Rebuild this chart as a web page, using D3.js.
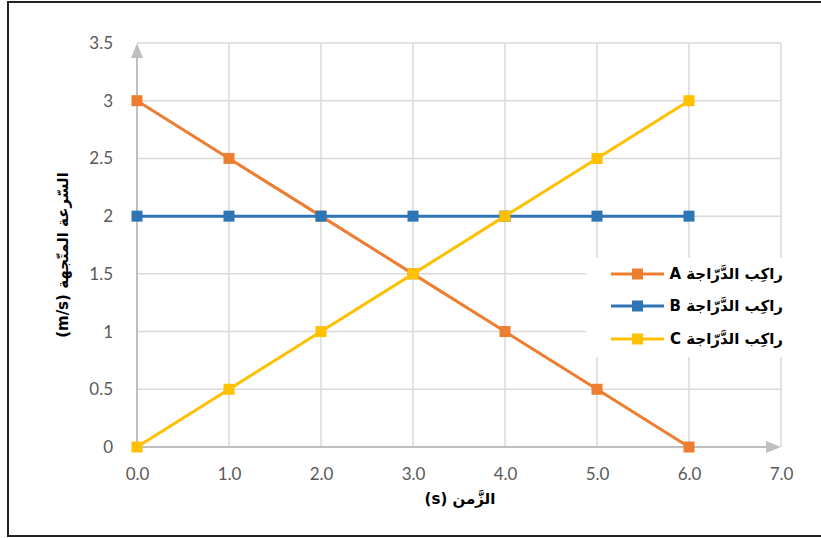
<!DOCTYPE html>
<html>
<head>
<meta charset="utf-8">
<script src="https://cdn.jsdelivr.net/npm/d3@7"></script>
<style>
  body { margin: 0; background: #fff; }
  svg { display: block; }
  .tick-label { font-family: Lato, "Open Sans", sans-serif; font-size: 17px; fill: #595959; }
  .ar { font-family: "DejaVu Sans", "Noto Sans", sans-serif; font-weight: bold; fill: #000; }
</style>
</head>
<body>
<svg id="chart" width="821" height="538"></svg>
<script>
const times = [0, 1, 2, 3, 4, 5, 6];
const riderA = [3, 2.5, 2, 1.5, 1, 0.5, 0];
const riderB = [2, 2, 2, 2, 2, 2, 2];
const riderC = [0, 0.5, 1, 1.5, 2, 2.5, 3];
const seriesNames = ['راكِب الدَّرّاجة A', 'راكِب الدَّرّاجة B', 'راكِب الدَّرّاجة C'];
const seriesColors = ['#ED7D31', '#2E75B6', '#FFC000'];
const xTicks = [0, 1, 2, 3, 4, 5, 6, 7];
const yTicks = [0, 0.5, 1, 1.5, 2, 2.5, 3, 3.5];
const xTitle = 'الزَّمن (s)';
const yTitle = 'السّرعة المتّجهة (m/s)';

const series = [riderA, riderB, riderC].map((vals, i) => ({
  name: seriesNames[i],
  color: seriesColors[i],
  points: vals.map((v, j) => ({ t: times[j], v }))
}));

const svg = d3.select('#chart');

// outer frame
svg.append('path')
  .attr('d', 'M8,537 L8,2 L821,2')
  .attr('fill', 'none')
  .attr('stroke', '#222')
  .attr('stroke-width', 2);
svg.append('line')
  .attr('x1', 8).attr('x2', 821).attr('y1', 536).attr('y2', 536)
  .attr('stroke', '#222').attr('stroke-width', 2);

const x = d3.scaleLinear().domain([0, 7]).range([137, 781]);
const y = d3.scaleLinear().domain([0, 3.5]).range([447, 43]);

// grid
const grid = svg.append('g');
grid.selectAll('.vg')
  .data(xTicks.slice(1))
  .join('line')
  .attr('x1', d => x(d)).attr('x2', d => x(d))
  .attr('y1', y(0)).attr('y2', y(3.5))
  .attr('stroke', '#d9d9d9').attr('stroke-width', 1.5);
grid.selectAll('.hg')
  .data(yTicks.slice(1))
  .join('line')
  .attr('x1', x(0)).attr('x2', x(7))
  .attr('y1', d => y(d)).attr('y2', d => y(d))
  .attr('stroke', '#d9d9d9').attr('stroke-width', 1.5);

// axes with arrows
const axisColor = '#bfbfbf';
svg.append('line')
  .attr('x1', x(0)).attr('x2', x(7) - 8)
  .attr('y1', y(0)).attr('y2', y(0))
  .attr('stroke', axisColor).attr('stroke-width', 2);
svg.append('path')
  .attr('d', `M${x(7)},${y(0)} l-15,-6 l0,12 z`)
  .attr('fill', axisColor);
svg.append('line')
  .attr('x1', x(0)).attr('x2', x(0))
  .attr('y1', y(0)).attr('y2', y(3.5) + 8)
  .attr('stroke', axisColor).attr('stroke-width', 2);
svg.append('path')
  .attr('d', `M${x(0)},${y(3.5)} l-6,15 l12,0 z`)
  .attr('fill', axisColor);

// tick labels
const xAxis = d3.axisBottom(x).tickValues(xTicks).tickFormat(d3.format('.1f')).tickSize(0).tickPadding(21);
const xg = svg.append('g').attr('transform', `translate(0,${y(0)})`).call(xAxis);
xg.select('.domain').remove();
xg.selectAll('text').attr('class', 'tick-label').attr('font-size', null).attr('font-family', null);

const yAxis = d3.axisLeft(y).tickValues(yTicks).tickFormat(d => d).tickSize(0).tickPadding(24);
const yg = svg.append('g').attr('transform', `translate(${x(0)},0)`).call(yAxis);
yg.select('.domain').remove();
yg.selectAll('text').attr('class', 'tick-label').attr('font-size', null).attr('font-family', null);

// axis titles
svg.append('text')
  .attr('class', 'ar')
  .attr('x', 460).attr('y', 504)
  .attr('text-anchor', 'middle')
  .attr('direction', 'rtl')
  .attr('font-size', 15)
  .text(xTitle);
svg.append('text')
  .attr('class', 'ar')
  .attr('transform', 'translate(68,255) rotate(-90)')
  .attr('text-anchor', 'middle')
  .attr('direction', 'rtl')
  .attr('font-size', 15)
  .text(yTitle);

// series
const line = d3.line().x(d => x(d.t)).y(d => y(d.v));
const sg = svg.append('g');
series.forEach(s => {
  sg.append('path')
    .datum(s.points)
    .attr('d', line)
    .attr('fill', 'none')
    .attr('stroke', s.color)
    .attr('stroke-width', 3);
  sg.selectAll(null)
    .data(s.points)
    .join('rect')
    .attr('x', d => x(d.t) - 5.5)
    .attr('y', d => y(d.v) - 5.5)
    .attr('width', 11).attr('height', 11)
    .attr('fill', s.color);
});

// legend
const lg = svg.append('g');
lg.append('rect')
  .attr('x', 586).attr('y', 258).attr('width', 204).attr('height', 99)
  .attr('fill', '#fff');
const legendY = [274, 306, 339];
series.forEach((s, i) => {
  const g = lg.append('g').attr('transform', `translate(0,${legendY[i]})`);
  g.append('line')
    .attr('x1', 611).attr('x2', 664).attr('y1', 0).attr('y2', 0)
    .attr('stroke', s.color).attr('stroke-width', 3);
  g.append('rect')
    .attr('x', 632).attr('y', -5.5).attr('width', 11).attr('height', 11)
    .attr('fill', s.color);
  g.append('text')
    .attr('class', 'ar')
    .attr('x', 783).attr('y', 5)
    .attr('direction', 'rtl')
    .attr('text-anchor', 'start')
    .attr('font-size', 15)
    .text(s.name);
});
</script>
</body>
</html>
